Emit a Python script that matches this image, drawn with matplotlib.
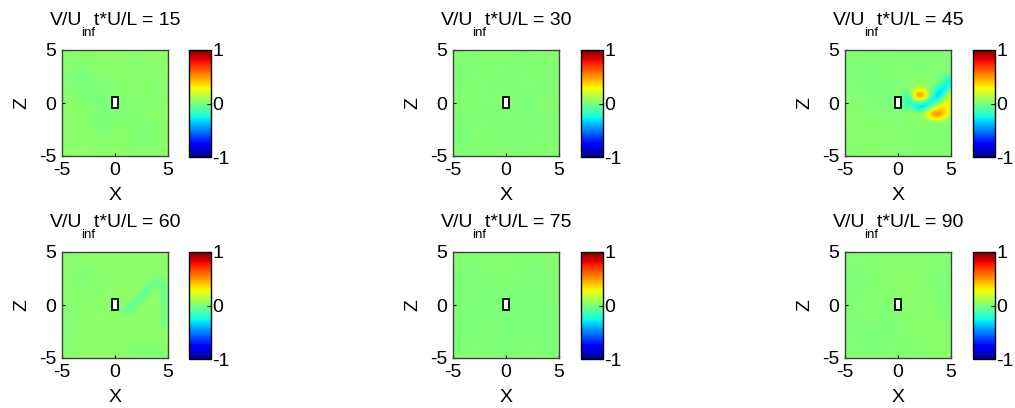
import numpy as np
import matplotlib
matplotlib.use("Agg")
import matplotlib.pyplot as plt
from matplotlib.patches import Rectangle
from matplotlib.offsetbox import TextArea, HPacker, VPacker, DrawingArea, AnchoredOffsetbox

plt.rcParams['font.family'] = ['Liberation Sans', 'DejaVu Sans']
plt.rcParams['axes.unicode_minus'] = False

# Snapshot times (t*U/L) shown in each panel
times = [15, 30, 45, 60, 75, 90]

# Coarse background field of V/U_inf: rows z = 5..-5, columns x = -5..5 (step 1)
bg_15 = np.array([
    [.04, .04, .04, .04, .04, .04, .04, .04, .04, .04, .04],
    [.04, .04, .02, .04, .04, .04, .04, .03, .04, .04, .04],
    [.04, .01, .00, .02, .04, .04, .03, .04, .04, .04, .04],
    [.03, .00, .00, .01, .02, .03, .04, .04, .04, .02, .04],
    [.04, .02, .00, .00, .01, .02, .04, .04, .03, .01, .04],
    [.04, .04, .02, .01, .00, .02, .01, .02, .02, .03, .04],
    [.04, .04, .04, .02, .00, .01, .00, .02, .04, .04, .04],
    [.04, .03, .04, .01, .00, .02, .03, .02, .01, .03, .04],
    [.04, .02, .04, .03, .01, .04, .04, .01, .00, .02, .04],
    [.04, .04, .04, .04, .03, .04, .04, .02, .01, .03, .04],
    [.04, .04, .04, .04, .04, .04, .04, .04, .04, .04, .04],
])
bg_30 = np.array([
    [.03, .03, .03, .03, .03, .03, .03, .03, .03, .03, .03],
    [.03, .02, .00, .01, .03, .02, .01, .00, .01, .03, .03],
    [.02, .00, .01, .03, .02, .00, .01, .02, .03, .02, .03],
    [.01, .00, .02, .01, .00, .01, .02, .03, .01, .00, .02],
    [.02, .01, .03, .02, .01, .02, .00, .01, .00, .01, .03],
    [.03, .02, .03, .01, .02, .03, .01, .00, .02, .03, .03],
    [.02, .01, .02, .00, .01, .02, .01, .00, .01, .02, .03],
    [.01, .00, .01, .02, .00, .01, .02, .01, .00, .01, .02],
    [.00, .00, .02, .03, .01, .00, .01, .02, .01, .02, .03],
    [.01, .01, .00, .02, .03, .02, .00, .01, .02, .03, .03],
    [.02, .02, .01, .02, .03, .03, .02, .02, .03, .03, .03],
])
bg_45 = np.array([
    [.02, .02, .02, .02, .02, .02, .02, .02, .02, .02, .02],
    [.01, .00, .01, .02, .03, .02, .01, .01, .02, .02, .02],
    [.00, .00, .00, .01, .02, .03, .02, .01, .01, .02, .02],
    [.02, .01, .00, .00, .01, .02, .02, .02, .01, .02, .02],
    [.03, .02, .01, .00, .00, .01, .02, .02, .02, .02, .02],
    [.03, .03, .02, .01, .00, .00, .02, .02, .02, .02, .02],
    [.04, .04, .03, .02, .01, .02, .03, .02, .02, .02, .02],
    [.04, .04, .04, .03, .03, .03, .02, .03, .01, .02, .02],
    [.03, .04, .04, .04, .03, .02, .03, .01, .01, .02, .02],
    [.02, .03, .04, .04, .04, .03, .02, .02, .02, .01, .02],
    [.02, .02, .03, .03, .03, .02, .02, .02, .02, .02, .02],
])
bg_60 = np.array([
    [.04, .04, .04, .04, .04, .04, .04, .04, .04, .04, .04],
    [.04, .03, .04, .04, .04, .04, .04, .04, .04, .04, .04],
    [.04, .02, .00, .02, .04, .04, .04, .04, .04, .04, .04],
    [.04, .03, .01, .03, .04, .04, .04, .04, .04, .04, .04],
    [.03, .04, .04, .04, .04, .04, .04, .04, .04, .04, .04],
    [.02, .03, .04, .04, .04, .04, .04, .04, .04, .04, .04],
    [.01, .02, .04, .04, .04, .04, .04, .04, .04, .04, .04],
    [.00, .02, .04, .04, .04, .04, .04, .04, .04, .04, .04],
    [.01, .03, .04, .04, .04, .04, .04, .04, .04, .04, .04],
    [.02, .04, .04, .04, .04, .04, .04, .02, .01, .02, .04],
    [.03, .04, .04, .04, .04, .04, .04, .01, .00, .01, .04],
])
bg_75 = np.array([
    [.03, .03, .03, .03, .03, .03, .03, .03, .03, .03, .03],
    [.03, .02, .01, .02, .03, .03, .02, .01, .02, .03, .03],
    [.02, .01, .00, .01, .02, .03, .02, .01, .00, .01, .03],
    [.01, .00, .00, .00, .01, .02, .01, .00, .00, .02, .03],
    [.00, .00, .01, .00, .00, .01, .00, .00, .01, .02, .03],
    [.01, .00, .00, .01, .00, .00, .00, .01, .00, .01, .02],
    [.02, .01, .00, .00, .01, .00, .00, .00, .00, .00, .01],
    [.01, .00, .00, .01, .02, .01, .00, .00, .00, .01, .02],
    [.00, .00, .01, .02, .01, .00, .00, .01, .01, .00, .01],
    [.01, .01, .02, .01, .00, .00, .01, .02, .01, .00, .01],
    [.02, .02, .02, .01, .01, .01, .02, .02, .02, .01, .02],
])
bg_90 = np.array([
    [.03, .03, .03, .03, .03, .03, .03, .04, .04, .03, .03],
    [.02, .01, .02, .03, .04, .03, .04, .04, .03, .02, .02],
    [.01, .00, .01, .03, .04, .04, .04, .03, .02, .01, .01],
    [.00, .00, .01, .02, .04, .04, .04, .03, .02, .00, .00],
    [.01, .01, .02, .02, .03, .04, .04, .04, .03, .01, .00],
    [.01, .02, .03, .03, .02, .03, .04, .04, .03, .01, .00],
    [.00, .01, .02, .02, .01, .02, .04, .04, .04, .02, .01],
    [.01, .00, .01, .01, .00, .01, .03, .04, .04, .03, .02],
    [.02, .01, .00, .00, .01, .02, .02, .03, .04, .04, .03],
    [.03, .02, .01, .00, .01, .02, .01, .02, .03, .04, .04],
    [.03, .03, .02, .02, .02, .02, .02, .02, .03, .03, .03],
])
backgrounds = [bg_15, bg_30, bg_45, bg_60, bg_75, bg_90]

# Finer wake field behind the body: rows z = 2.5..-2.5, columns x = 0.5..5.0 (step 0.5)
wake_45 = np.array([
    [.03, .03, .03, .03, .03, .03, .03, .02, -.05, -.10],
    [.03, .03, .03, .03, .03, .03, .02, -.05, -.25, -.30],
    [.03, .03, .05, .08, .05, .02, -.05, -.25, -.35, -.10],
    [.00, -.15, .30, .45, .30, .00, -.25, -.40, -.15, .15],
    [-.05, -.25, .40, .60, .50, -.15, -.40, -.25, .15, .30],
    [-.10, -.25, -.20, -.15, -.30, -.40, -.15, .15, .30, .30],
    [-.05, -.05, -.30, -.40, -.35, .05, .25, .35, .35, .25],
    [.03, .08, .10, .08, .20, .50, .60, .55, .30, .10],
    [.03, .03, .03, .03, .08, .20, .35, .30, .10, .03],
    [.03, .03, .03, .03, .02, -.03, -.05, -.03, .02, .03],
    [.03, .03, .03, .03, .03, .03, .03, .03, .03, .03],
])
wake_60 = np.array([
    [.04, .04, .04, .04, .04, .04, .02, .02, .04, .04],
    [.04, .04, .04, .04, .04, .01, -.06, -.08, -.03, .04],
    [.04, .04, .04, .04, .04, -.08, .00, .02, -.08, .04],
    [.04, .04, .04, .04, -.08, -.04, .04, .07, -.08, .04],
    [.04, .04, .04, -.08, -.03, .04, .04, .07, -.08, .04],
    [.04, .04, -.08, -.03, .04, .04, .04, .06, -.07, .06],
    [-.03, -.08, -.04, .04, .04, .04, .04, .08, -.06, .06],
    [.04, .04, .04, .04, .04, .04, .04, .08, -.07, .04],
    [.04, .04, .04, .04, .04, .04, .04, .07, -.06, .06],
    [.04, .04, .04, .04, .04, .04, .04, .05, -.04, .04],
    [.04, .04, .04, .04, .04, .04, .04, .04, .04, .04],
])
wakes = {45: wake_45, 60: wake_60}

# Body cross-section (x0, z0, width, height)
body = (-0.3, -0.5, 0.6, 1.05)

fig = plt.figure(figsize=(10.15, 4.08), dpi=100)
W, H = 1015.0, 408.0
ax_lefts = [62, 453, 845]
cb_lefts = [189, 581, 973]
row_tops = [50, 252]
ax_size = 106
cb_w = 22
fs = 14
fs_sub = 9.5


def add_title(ax, t):
    """Title 'V/U_inf t*U/L = t' with a deep-set subscript."""
    main1 = TextArea('V/U', textprops=dict(fontsize=fs))
    sub = TextArea('inf', textprops=dict(fontsize=fs_sub))
    sub_col = VPacker(children=[DrawingArea(0, 10.5), sub], sep=0, pad=0, align='left')
    main2 = TextArea('t*U/L = %d' % t, textprops=dict(fontsize=fs))
    row = HPacker(children=[main1, sub_col, main2], sep=-1, pad=0, align='top')
    box = AnchoredOffsetbox(loc='lower center', child=row, pad=0, borderpad=0,
                            frameon=False, bbox_to_anchor=(0.5, 1 + 11 / ax_size),
                            bbox_transform=ax.transAxes)
    ax.add_artist(box)


for i, (t, field) in enumerate(zip(times, backgrounds)):
    r, c = divmod(i, 3)
    top = row_tops[r]
    ax = fig.add_axes([ax_lefts[c] / W, 1 - (top + ax_size) / H, ax_size / W, ax_size / H])
    im = ax.imshow(field, cmap='jet', vmin=-1, vmax=1, interpolation='bicubic',
                   extent=(-5.5, 5.5, -5.5, 5.5), origin='upper')
    if t in wakes:
        ax.imshow(wakes[t], cmap='jet', vmin=-1, vmax=1, interpolation='bicubic',
                  extent=(0.25, 5.25, -2.75, 2.75), origin='upper')
    ax.add_patch(Rectangle(body[:2], body[2], body[3], facecolor='white',
                           edgecolor='black', linewidth=1.3, zorder=3))
    ax.set_xlim(-5, 5)
    ax.set_ylim(-5, 5)
    ax.set_aspect('auto')
    ax.set_xticks([-5, 0, 5])
    ax.set_yticks([-5, 0, 5])
    ax.tick_params(direction='in', length=2, labelsize=fs, pad=4)
    for s in ax.spines.values():
        s.set_color('#404040')
        s.set_linewidth(1.0)
    ax.set_xlabel('X', fontsize=fs, labelpad=6)
    ax.set_ylabel('Z', fontsize=fs, labelpad=6)
    add_title(ax, t)

    cax = fig.add_axes([cb_lefts[c] / W, 1 - (top + ax_size + 1) / H, cb_w / W, (ax_size + 1) / H])
    cb = fig.colorbar(im, cax=cax, ticks=[-1, 0, 1])
    cb.ax.set_yticklabels(['-1', '0', '1'])
    cb.ax.tick_params(direction='in', length=3, labelsize=fs, pad=1)
    cb.outline.set_linewidth(1.0)

fig.savefig('out.png', dpi=100)
